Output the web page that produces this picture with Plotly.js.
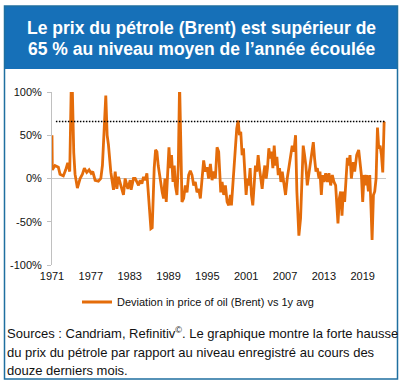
<!DOCTYPE html>
<html>
<head>
<meta charset="utf-8">
<script src="https://cdn.plot.ly/plotly-3.0.1.min.js"></script>
<style>html,body{margin:0;padding:0;background:#fff;}#chart{width:402px;height:384px;}</style>
</head>
<body>
<div id="chart"></div>
<script>
// ---- data ----
const dates = [
 1971.0,1971.05,1971.46,1971.98,1972.24,1972.75,1973.12,1973.43,1973.74,1973.94,1974.05,1974.15,1974.36,1974.56,1974.92,1975.34,1975.7,1976.0,1976.37,1976.73,1977.04,1977.3,1977.66,1978.17,1978.54,1978.79,1979.0,1979.31,1979.52,1979.72,1980.09,1980.24,1980.5,1980.76,1981.02,1981.27,1981.68,1982.04,1982.3,1982.72,1983.08,1983.23,1983.59,
 1983.85,1984.11,1984.37,1984.63,1984.89,1985.14,1985.4,1985.66,1985.91,1986.07,1986.28,1986.48,1986.59,1986.79,1987.0,1987.21,1987.41,1987.62,1987.83,1988.03,1988.24,1988.45,1988.65,1988.86,1989.07,1989.27,1989.47,1989.69,1989.89,1990.05,1990.31,1990.51,1990.62,1990.71,1990.82,1990.93,1991.08,1991.34,1991.6,1991.86,1992.11,1992.37,1992.63,1992.89,1993.14,1993.4,1993.66,1993.92,1994.18,1994.43,1994.69,1994.95,1995.2,1995.47,1995.73,1995.98,1996.24,1996.5,1996.75,
 1996.9,1997.07,1997.28,1997.53,1997.79,1998.05,1998.3,1998.56,1998.72,1998.92,1999.14,1999.34,1999.54,1999.76,1999.96,2000.16,2000.37,2000.58,2000.78,2000.99,2001.19,2001.4,2001.61,2001.81,2002.02,2002.23,2002.43,2002.64,2002.85,2003.05,2003.26,2003.47,2003.67,2003.88,2004.09,2004.29,2004.5,2004.71,2004.91,2005.12,2005.33,2005.53,2005.74,2005.95,2006.15,2006.36,2006.57,2006.82,2007.08,2007.34,2007.6,2007.85,2008.11,2008.37,2008.63,2008.83,2009.04,2009.14,
 2009.4,2009.66,2009.81,2010.02,2010.22,2010.44,2010.69,2010.95,2011.21,2011.37,2011.57,2011.78,2011.99,2012.25,2012.4,2012.61,2012.81,2013.02,2013.28,2013.54,2013.79,2014.05,2014.31,2014.56,2014.82,2014.98,2015.18,2015.39,2015.6,2015.8,2016.01,2016.21,2016.42,2016.63,2016.83,2017.04,2017.25,2017.56,2017.76,2018.07,2018.38,2018.59,2018.8,2019.0,2019.21,2019.42,2019.62,2019.88,2020.09,2020.29,2020.45,2020.66,2020.86,2021.07,2021.28,2021.48,2021.69,2021.9,2022.1,2022.31,2022.41
];
const deviation = [
 50,10,15,13,5,3,10,18,8,130,140,100,30,5,-11,0,5,12,7,10,6,8,-2,-3,0,15,50,96,50,39,7,-2,-13,8,-12,2,-8,-19,0,-12,-2,-13,0,
 0,-4,-8,-2,-6,2,-2,6,-23,-46,-58,-57,-27,12,33,31,15,4,-8,-16,-23,0,-27,4,36,12,27,-4,15,-8,-19,15,70,110,70,12,-27,-23,-8,-16,4,9,4,-8,-4,-16,-12,-23,0,21,8,13,0,17,-2,8,0,36,31,
 4,-16,-4,-19,-8,-27,-31,-19,-31,-8,19,42,58,67,50,54,27,35,8,-19,0,-8,12,-19,-31,-8,15,8,27,12,-4,-12,4,15,0,12,35,23,31,12,38,15,25,4,12,-4,8,-4,-19,0,12,27,38,31,50,-15,-54,-66,
 -46,12,38,27,15,-8,4,19,31,42,23,8,12,0,8,-19,4,-4,6,-4,6,-8,4,-4,-8,-31,-52,-23,-15,-43,-15,-27,8,24,15,27,0,19,8,27,33,15,4,-27,4,-8,4,-15,4,-35,-71,-19,-15,0,59,35,38,27,7,65,66
];
const currentLevel = 66;              // dotted reference line (%)
const currentLevelDates = [1971.6, 2022.41];
const xTickVals = [1971,1977,1983,1989,1995,2001,2007,2013,2019];
const xTickText = ['1971','1977','1983','1989','1995','2001','2007','2013','2019'];
const yTickVals = [-100,-50,0,50,100];
const yTickText = ['-100%','-50%','0%','50%','100%'];
const seriesName = 'Deviation in price of oil (Brent) vs 1y avg';
const titleLines = [
 '<b>Le prix du pétrole (Brent) est supérieur de</b>',
 '<b>65 % au niveau moyen de l’année écoulée</b>'
];
const sourceLines = [
 'Sources : Candriam, Refinitiv<sup>©</sup>. Le graphique montre la forte hausse',
 'du prix du pétrole par rapport au niveau enregistré au cours des',
 'douze derniers mois.'
];

// ---- layout helpers (pixel -> paper) ----
const L=52, R=386, T=92, B=265, W=402, H=384;
const px = v => (v-L)/(R-L);
const py = v => (B-v)/(B-T);
const FONT = 'Arial, "Liberation Sans", sans-serif';

const traces = [
 {x: dates, y: deviation, type:'scatter', mode:'lines', name: seriesName,
  line:{color:'#e46c0a', width:2.8}, hoverinfo:'skip'},
 {x: currentLevelDates, y: currentLevelDates.map(()=>currentLevel), type:'scatter', mode:'lines',
  showlegend:false, line:{color:'#000', width:1.5, dash:'1.5px,1.5px'}, hoverinfo:'skip'}
];

const annotations = [];
const titleY = [28, 49];
titleLines.forEach((t,i)=>annotations.push({xref:'paper', yref:'paper', x: px(201.5), y: py(titleY[i]),
  xanchor:'center', yanchor:'middle', text:t, showarrow:false,
  font:{family:FONT, size:17.5, color:'#fff'}}));
const srcY = [333, 352, 370];
sourceLines.forEach((t,i)=>annotations.push({xref:'paper', yref:'paper', x: px(5), y: py(srcY[i]),
  xanchor:'left', yanchor:'middle', text:t, showarrow:false, align:'left',
  font:{family:FONT, size:13, color:'#111'}}));

const layout = {
 width: W, height: H,
 margin: {l:L, r:W-R, t:T, b:H-B, autoexpand:false},
 paper_bgcolor:'#fff', plot_bgcolor:'#fff',
 font:{family:FONT, size:11, color:'#111'},
 showlegend:true,
 legend:{orientation:'h', x: px(77), y: py(302), xanchor:'left', yanchor:'middle',
  itemwidth:30, font:{family:FONT, size:11, color:'#111'}, bgcolor:'rgba(0,0,0,0)'},
 xaxis:{range:[1971, 2022.6], tickvals:xTickVals, ticktext:xTickText, showgrid:false,
  zeroline:false, showline:false, ticks:'', ticklabelstandoff:3, fixedrange:true,
  tickfont:{family:FONT, size:11, color:'#111'}},
 yaxis:{range:[-100,100], tickvals:yTickVals, ticktext:yTickText, showgrid:false,
  zeroline:true, zerolinecolor:'#c8c8c8', zerolinewidth:1.5,
  showline:true, linecolor:'#c0c0c0', linewidth:1, ticks:'outside', ticklen:4, tickcolor:'#c0c0c0',
  ticklabelstandoff:3, fixedrange:true, tickfont:{family:FONT, size:11, color:'#111'}},
 shapes:[
  {type:'rect', xref:'paper', yref:'paper', x0:px(4), x1:px(398), y0:py(69), y1:py(6),
   fillcolor:'#1670b8', line:{width:0}, layer:'below'},
  {type:'rect', xref:'paper', yref:'paper', x0:px(4.5), x1:px(397.5), y0:py(379), y1:py(6),
   fillcolor:'rgba(0,0,0,0)', line:{color:'#1f6fa0', width:1.5}, layer:'below'}
 ],
 annotations: annotations
};

Plotly.newPlot('chart', traces, layout, {staticPlot:true, displayModeBar:false});
</script>
</body>
</html>
